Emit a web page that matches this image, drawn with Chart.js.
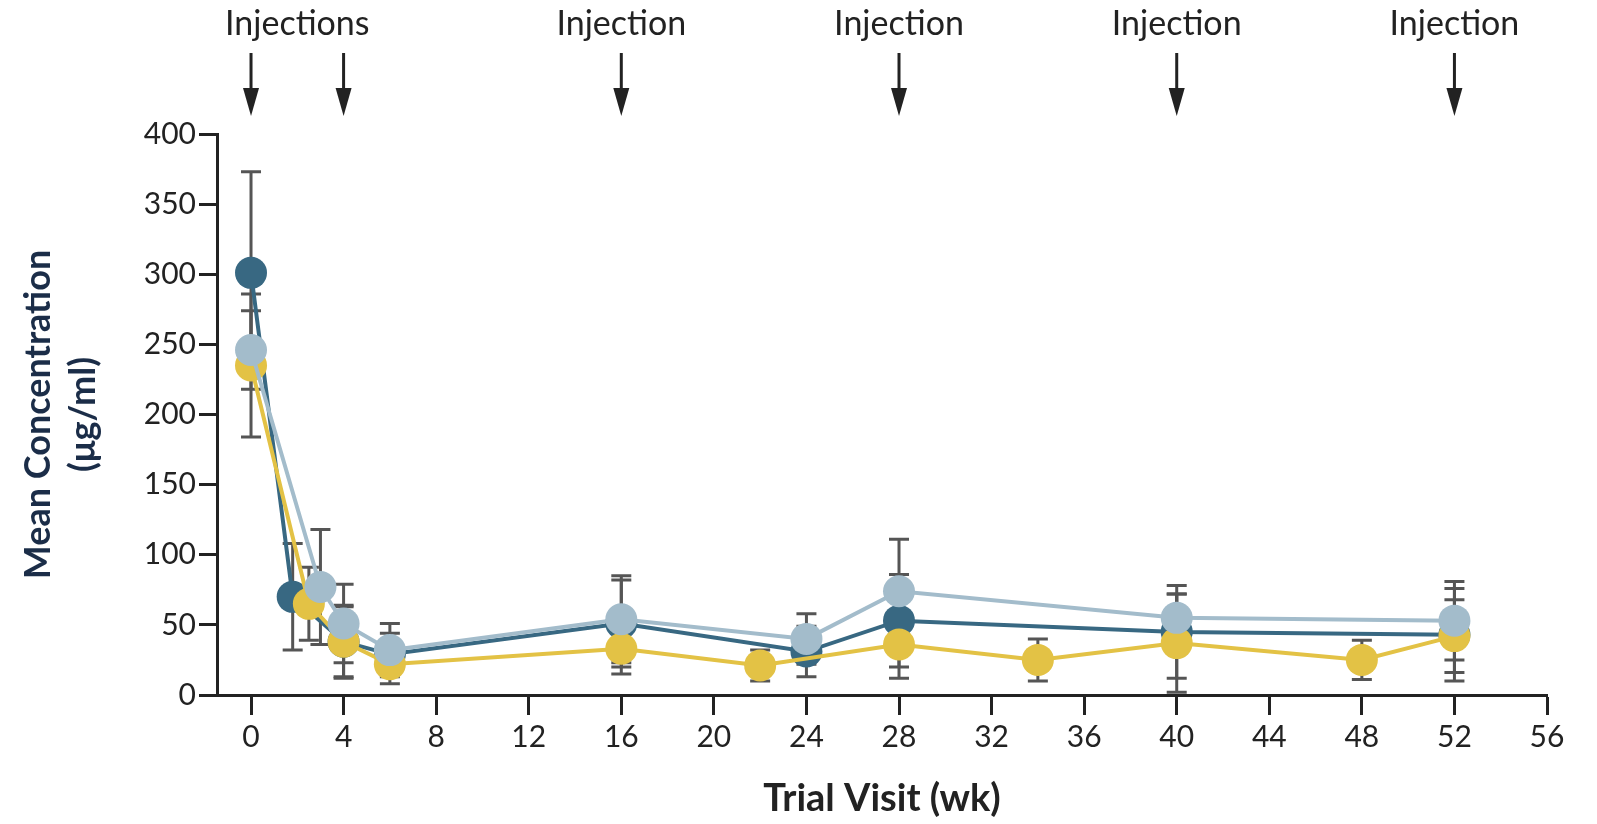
<!DOCTYPE html>
<html>
<head>
<meta charset="utf-8">
<title>Mean Concentration by Trial Visit</title>
<script src="https://cdn.jsdelivr.net/npm/chart.js@4.4.1/dist/chart.umd.min.js"></script>
<style>
  html, body { margin: 0; padding: 0; background: #fff; }
  #wrap { width: 1597px; height: 824px; position: relative; }
</style>
</head>
<body>
<div id="wrap"><canvas id="chart"></canvas></div>
<script>
// axis ticks
const xTicks = [0, 4, 8, 12, 16, 20, 24, 28, 32, 36, 40, 44, 48, 52, 56];
const yTicks = [0, 50, 100, 150, 200, 250, 300, 350, 400];

// dark teal group
const darkWeeks = [0, 1.8, 4, 6, 16, 24, 28, 40, 52];
const darkMean = [301, 70, 38, 29, 51, 31, 53, 45, 43];
const darkSd = [72, 38, 26, 15, 31, 18, 33, 33, 33];

// light blue group
const lightWeeks = [0, 3, 4, 6, 16, 24, 28, 40, 52];
const lightMean = [246, 77, 51, 32, 54, 40, 74, 55, 53];
const lightSd = [28, 41, 28, 19, 31, 18, 37, 17, 28];

// yellow group
const yellowWeeks = [0, 2.5, 4, 6, 16, 22, 28, 34, 40, 48, 52];
const yellowMean = [235, 65, 38, 22, 33, 21, 36, 25, 37, 25, 42];
const yellowSd = [51, 26, 25, 14, 18, 11, 24, 15, 35, 14, 26];

// injection markers
const injectionWeeks = [0, 4, 16, 28, 40, 52];
const injectionLabels = ["Injections", "Injection", "Injection", "Injection", "Injection"];
const injectionLabelWeeks = [2, 16, 28, 40, 52];

const ink = "#222222";
const barColor = "#555555";

function points(weeks, vals, sd) {
    return weeks.map((w, i) => ({ x: w, y: vals[i], sd: sd[i] }));
}

const errorBars = {
    id: "errorBars",
    beforeDatasetsDraw(chart) {
        const ctx = chart.ctx;
        const y = chart.scales.y;
        ctx.save();
        ctx.strokeStyle = barColor;
        ctx.lineWidth = 3;
        chart.data.datasets.forEach((ds, di) => {
            const meta = chart.getDatasetMeta(di);
            meta.data.forEach((pt, i) => {
                const d = ds.data[i];
                const top = y.getPixelForValue(d.y + d.sd);
                const bot = y.getPixelForValue(Math.max(d.y - d.sd, 0));
                ctx.beginPath();
                ctx.moveTo(pt.x, top);
                ctx.lineTo(pt.x, bot);
                ctx.moveTo(pt.x - 10, top);
                ctx.lineTo(pt.x + 10, top);
                ctx.moveTo(pt.x - 10, bot);
                ctx.lineTo(pt.x + 10, bot);
                ctx.stroke();
            });
        });
        ctx.restore();
    }
};

const injections = {
    id: "injections",
    afterDraw(chart) {
        const ctx = chart.ctx;
        const x = chart.scales.x;
        ctx.save();
        ctx.strokeStyle = ink;
        ctx.fillStyle = ink;
        ctx.lineWidth = 3;
        injectionWeeks.forEach(w => {
            const px = x.getPixelForValue(w);
            ctx.beginPath();
            ctx.moveTo(px, 53);
            ctx.lineTo(px, 92);
            ctx.stroke();
            ctx.beginPath();
            ctx.moveTo(px - 8, 88);
            ctx.lineTo(px + 8, 88);
            ctx.lineTo(px, 116);
            ctx.closePath();
            ctx.fill();
        });
        ctx.font = "34px Lato";
        ctx.textAlign = "center";
        ctx.textBaseline = "alphabetic";
        injectionLabels.forEach((t, i) => {
            ctx.fillText(t, x.getPixelForValue(injectionLabelWeeks[i]), 35);
        });
        ctx.restore();
    }
};

const lineStyle = {
    borderWidth: 4,
    pointRadius: 16,
    pointHoverRadius: 16,
    pointBorderWidth: 0,
    tension: 0,
    clip: false
};

new Chart(document.getElementById("chart"), {
    type: "line",
    data: {
        datasets: [
            {
                label: "Light group",
                data: points(lightWeeks, lightMean, lightSd),
                borderColor: "#a3bccb",
                backgroundColor: "#a3bccb",
                order: 0,
                ...lineStyle
            },
            {
                label: "Yellow group",
                data: points(yellowWeeks, yellowMean, yellowSd),
                borderColor: "#e3c245",
                backgroundColor: "#e3c245",
                order: 1,
                ...lineStyle
            },
            {
                label: "Dark group",
                data: points(darkWeeks, darkMean, darkSd),
                borderColor: "#386882",
                backgroundColor: "#386882",
                order: 2,
                ...lineStyle
            }
        ]
    },
    options: {
        responsive: true,
        maintainAspectRatio: false,
        animation: false,
        devicePixelRatio: 1,
        layout: { padding: { top: 134, right: 50, left: 0, bottom: 0 } },
        plugins: {
            legend: { display: false },
            tooltip: { enabled: false }
        },
        scales: {
            x: {
                type: "linear",
                min: -1.47,
                max: 56,
                afterBuildTicks: s => { s.ticks = xTicks.map(v => ({ value: v })); },
                afterFit: s => { s.height = 129; },
                grid: { drawOnChartArea: false, tickLength: 20, tickWidth: 3, tickColor: ink },
                border: { display: true, color: ink, width: 3 },
                ticks: { color: ink, font: { family: "Lato", size: 30 }, padding: 4, maxRotation: 0 },
                title: {
                    display: true,
                    text: "Trial Visit (wk)",
                    color: ink,
                    font: { family: "Lato", size: 38, weight: "bold", lineHeight: 1.2 },
                    padding: { top: 0, bottom: 2 }
                }
            },
            y: {
                min: 0,
                max: 400,
                afterBuildTicks: s => { s.ticks = yTicks.map(v => ({ value: v })); },
                afterFit: s => { s.width = 217; },
                grid: { drawOnChartArea: false, tickLength: 18, tickWidth: 3, tickColor: ink },
                border: { display: true, color: ink, width: 3 },
                ticks: { color: ink, font: { family: "Lato", size: 30 }, padding: 3 },
                title: {
                    display: true,
                    text: ["Mean Concentration", "(\u03bcg/ml)"],
                    color: "#1b2d48",
                    font: { family: "Lato", size: 36, weight: "bold", lineHeight: 1.25 },
                    padding: { top: 16, bottom: 0 }
                }
            }
        }
    },
    plugins: [errorBars, injections]
});
</script>
</body>
</html>
